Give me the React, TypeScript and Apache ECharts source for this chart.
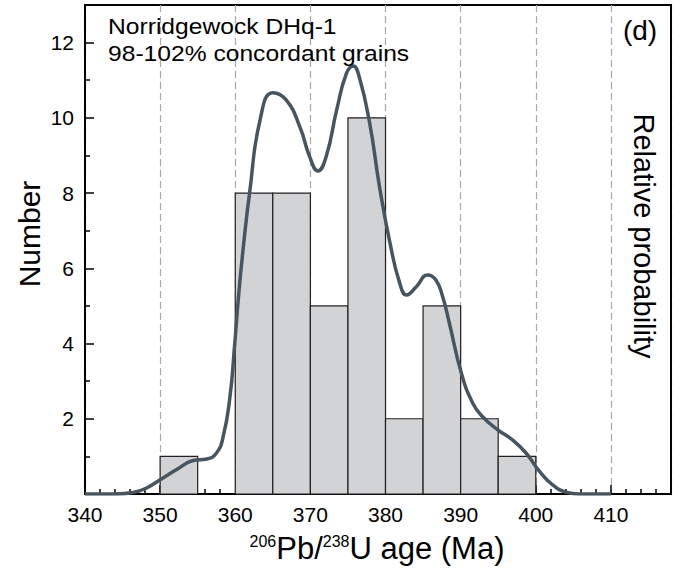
import React, { useEffect, useRef } from "react";
import * as echarts from "echarts";

// Histogram bins (Ma) and counts
const binLow = [350, 360, 365, 370, 375, 380, 385, 390, 395];
const binHigh = [355, 365, 370, 375, 380, 385, 390, 395, 400];
const binCounts = [1, 8, 8, 5, 10, 2, 5, 2, 1];

// Relative probability curve (scaled to the Number axis)
const curveAge = [
  340, 344, 346.4, 348.2, 350, 352.2, 354.4, 356.2, 357.5, 358.4, 359.3, 359.9,
  360.5, 361.2, 361.9, 363.3, 365.0, 366.8, 368.6, 369.9, 371.0, 372.1, 373.5,
  374.8, 375.7, 376.5, 377.9, 379.2, 380.6, 381.9, 382.8, 384.1, 385.6, 386.7,
  387.6, 388.5, 390.1, 391.6, 392.9, 394.9, 396.9, 398.7, 400.5, 402.2, 404.0,
  405.8, 410,
];
const curveValue = [
  0, 0, 0.04, 0.16, 0.38, 0.65, 0.89, 0.93, 1.09, 1.53, 2.59, 3.92,
  5.4, 6.8, 7.99, 9.94, 10.67, 10.47, 9.76, 8.97, 8.59, 8.97, 10.21,
  11.18, 11.38, 11.09, 9.85, 8.17, 6.67, 5.6, 5.29, 5.51, 5.82, 5.69,
  5.25, 4.54, 3.21, 2.42, 2.06, 1.71, 1.44, 1.09, 0.6, 0.25, 0.05,
  0, 0,
];

// Axis settings
const xMin = 340;
const xMax = 418;
const xInterval = 10;
const yMin = 0;
const yMax = 13;
const yInterval = 2;

const FONT = '"Liberation Sans", Arial, Helvetica, sans-serif';

export default function App() {
  const ref = useRef<HTMLDivElement>(null);

  useEffect(() => {
    if (!ref.current) return;
    const chart = echarts.init(ref.current, null, { renderer: "svg" });
    const histData = binLow.map((lo, i) => [lo, binHigh[i], binCounts[i]]);
    const curveData = curveAge.map((a, i) => [a, curveValue[i]]);

    chart.setOption({
      animation: false,
      textStyle: { fontFamily: FONT },
      grid: {
        left: 85,
        right: 8,
        top: 5,
        bottom: 77,
        show: true,
        borderColor: "#000",
        borderWidth: 2,
        backgroundColor: "transparent",
      },
      xAxis: [
        {
          type: "value",
          min: xMin,
          max: xMax,
          interval: xInterval,
          axisLine: { show: true, onZero: false, lineStyle: { color: "#000", width: 2 } },
          axisTick: { inside: true, length: 9, lineStyle: { color: "#000", width: 1.5 } },
          minorTick: { show: true, splitNumber: 5, length: 5, lineStyle: { color: "#000", width: 1.5 } },
          axisLabel: {
            color: "#000",
            fontSize: 21,
            fontFamily: FONT,
            margin: 10,
            formatter: (v: number) => (v % 10 === 0 && v <= 410 ? String(v) : ""),
          },
          splitLine: {
            show: true,
            lineStyle: { color: "#a7a9ac", type: [7, 4], width: 1.2 },
          },
        },
      ],
      yAxis: [
        {
          type: "value",
          min: yMin,
          max: yMax,
          interval: yInterval,
          axisLine: { show: true, lineStyle: { color: "#000", width: 2 } },
          axisTick: { inside: true, length: 9, lineStyle: { color: "#000", width: 1.5 } },
          minorTick: { show: true, splitNumber: 2, length: 5, lineStyle: { color: "#000", width: 1.5 } },
          axisLabel: {
            color: "#000",
            fontSize: 21,
            fontFamily: FONT,
            margin: 11,
            formatter: (v: number) => (v > 0 && v % 2 === 0 ? String(v) : ""),
          },
          splitLine: { show: false },
        },
        {
          type: "value",
          position: "right",
          min: yMin,
          max: yMax,
          interval: yInterval,
          axisLine: { show: true, lineStyle: { color: "#000", width: 2 } },
          axisTick: { show: false },
          axisLabel: { show: false },
          splitLine: { show: false },
          z: 5,
        },
      ],
      series: [
        {
          type: "custom",
          data: histData,
          encode: { x: [0, 1], y: 2 },
          renderItem: (params: any, api: any) => {
            const lo = api.value(0);
            const hi = api.value(1);
            const n = api.value(2);
            const p0 = api.coord([lo, n]);
            const p1 = api.coord([hi, 0]);
            return {
              type: "rect",
              shape: { x: p0[0], y: p0[1], width: p1[0] - p0[0], height: p1[1] - p0[1] },
              style: { fill: "#d1d3d4", stroke: "#231f20", lineWidth: 1.2 },
            };
          },
          z: 2,
        },
        {
          type: "line",
          data: curveData,
          smooth: 0.5,
          showSymbol: false,
          lineStyle: { color: "#46555f", width: 3.5 },
          z: 3,
        },
      ],
      graphic: [
        {
          type: "text",
          x: 108,
          y: 26,
          scaleX: 1.12,
          style: {
            text: "Norridgewock DHq-1",
            fontSize: 22,
            fontFamily: FONT,
            fill: "#000",
            align: "left",
            verticalAlign: "middle",
          },
          z: 10,
        },
        {
          type: "text",
          x: 108,
          y: 53,
          scaleX: 1.12,
          style: {
            text: "98-102% concordant grains",
            fontSize: 22,
            fontFamily: FONT,
            fill: "#000",
            align: "left",
            verticalAlign: "middle",
          },
          z: 10,
        },
        {
          type: "text",
          x: 640,
          y: 30,
          style: {
            text: "(d)",
            fontSize: 28,
            fontFamily: FONT,
            fill: "#000",
            align: "center",
            verticalAlign: "middle",
          },
          z: 10,
        },
        {
          type: "text",
          x: 29,
          y: 234,
          rotation: Math.PI / 2,
          style: {
            text: "Number",
            fontSize: 30,
            fontFamily: FONT,
            fill: "#000",
            align: "center",
            verticalAlign: "middle",
          },
          z: 10,
        },
        {
          type: "text",
          x: 644,
          y: 236,
          rotation: -Math.PI / 2,
          style: {
            text: "Relative probability",
            fontSize: 29,
            fontFamily: FONT,
            fill: "#000",
            align: "center",
            verticalAlign: "middle",
          },
          z: 10,
        },
        {
          type: "text",
          x: 377,
          y: 548,
          style: {
            text: "{s|206}{m|Pb/}{s|238}{m|U age (Ma)}",
            align: "center",
            verticalAlign: "middle",
            fill: "#000",
            fontFamily: FONT,
            rich: {
              s: { fontSize: 16, fontFamily: FONT, fill: "#000", verticalAlign: "top", lineHeight: 30 },
              m: { fontSize: 31, fontFamily: FONT, fill: "#000", lineHeight: 30 },
            },
          },
          z: 10,
        },
      ],
    });

    return () => chart.dispose();
  }, []);

  return (
    <div
      ref={ref}
      style={{ position: "absolute", left: 0, top: 0, width: 679, height: 571 }}
    />
  );
}
